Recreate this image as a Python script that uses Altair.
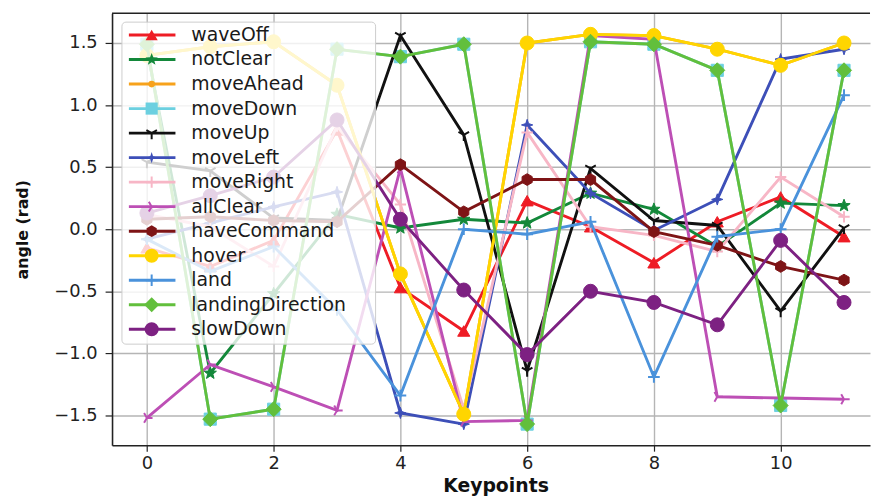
import math
import altair as alt
import pandas as pd

keypoints = list(range(12))

series_names = ["waveOff", "notClear", "moveAhead", "moveDown", "moveUp", "moveLeft",
                "moveRight", "allClear", "haveCommand", "hover", "land",
                "landingDirection", "slowDown"]

waveOff = [-0.15, -0.30, -0.09, 0.80, -0.47, -0.82, 0.23, 0.02, -0.27, 0.06, 0.26, -0.06]
notClear = [1.45, -1.16, -0.52, 0.12, 0.01, 0.08, 0.05, 0.29, 0.16, -0.14, 0.21, 0.19]
moveAhead = [1.40, 1.47, 1.51, 1.16, -0.36, -1.49, 1.50, 1.57, 1.56, 1.45, 1.32, 1.50]
moveDown = [1.49, -1.53, -1.45, 1.45, 1.39, 1.49, -1.57, 1.51, 1.49, 1.28, -1.42, 1.28]
moveUp = [0.54, 0.47, 0.09, 0.07, 1.56, 0.76, -1.14, 0.49, 0.07, 0.03, -0.66, 0.01]
moveLeft = [-0.08, 0.05, 0.18, 0.30, -1.48, -1.57, 0.84, 0.29, -0.01, 0.24, 1.37, 1.45]
moveRight = [0.12, 0.02, -0.30, 0.83, 0.20, -1.45, 0.78, 0.02, -0.05, -0.18, 0.42, 0.10]
allClear = [-1.52, -1.09, -1.27, -1.46, 0.49, -1.55, -1.54, 1.56, 1.53, -1.35, -1.36, -1.37]
haveCommand = [0.08, 0.10, 0.07, 0.06, 0.52, 0.14, 0.40, 0.40, -0.02, -0.13, -0.30, -0.41]
hover = [1.40, 1.47, 1.51, 1.16, -0.36, -1.49, 1.50, 1.57, 1.56, 1.45, 1.32, 1.50]
land = [-0.08, -0.34, -0.14, -0.65, -1.34, 0.00, -0.04, 0.06, -1.19, -0.06, 0.00, 1.08]
landingDirection = [1.49, -1.53, -1.45, 1.45, 1.39, 1.49, -1.57, 1.51, 1.49, 1.28, -1.42, 1.28]
slowDown = [0.13, 0.27, 0.42, 0.88, 0.08, -0.49, -1.01, -0.50, -0.59, -0.77, -0.09, -0.59]

series_values = [waveOff, notClear, moveAhead, moveDown, moveUp, moveLeft, moveRight,
                 allClear, haveCommand, hover, land, landingDirection, slowDown]

series_colors = ["#ee1c25", "#13883a", "#f7a21b", "#6cd0e0", "#111111", "#3d4fb8",
                 "#f7b6c6", "#bd4fb5", "#7e1416", "#ffd500", "#4a92db",
                 "#62bf3c", "#7d2182"]

y_ticks = [-1.5, -1.0, -0.5, 0.0, 0.5, 1.0, 1.5]
x_ticks = [0, 2, 4, 6, 8, 10]


def star_path(n=5, r_in=0.42):
    pts = []
    for k in range(2 * n):
        r = 1.0 if k % 2 == 0 else r_in
        a = -math.pi / 2 + k * math.pi / n
        pts.append(f"{r * math.cos(a):.3f},{r * math.sin(a):.3f}")
    return "M" + "L".join(pts) + "Z"


def hex_path():
    pts = []
    for k in range(6):
        a = -math.pi / 2 + k * math.pi / 3
        pts.append(f"{math.cos(a):.3f},{math.sin(a):.3f}")
    return "M" + "L".join(pts) + "Z"


tri_down = "M0,0L0,1M0,0L-0.87,-0.5M0,0L0.87,-0.5"
tri_right = "M0,0L1,0M0,0L-0.5,-0.87M0,0L-0.5,0.87"
plus = "M-1,0L1,0M0,-1L0,1"

# (shape, size, filled)
markers = [
    ("triangle-up", 150, True),
    (star_path(), 170, True),
    ("circle", 45, True),
    ("square", 150, True),
    (tri_down, 150, False),
    (star_path(4, 0.35), 130, True),
    (plus, 130, False),
    (tri_right, 130, False),
    (hex_path(), 140, True),
    ("circle", 200, True),
    (plus, 140, False),
    ("diamond", 230, True),
    ("circle", 200, True),
]

W, H = 765, 436
FONT = "DejaVu Sans"

x_scale = alt.Scale(domain=[-0.55, 11.41], nice=False, zero=False)
y_scale = alt.Scale(domain=[-1.74, 1.74], nice=False, zero=False)

x_axis = alt.Axis(values=x_ticks, title="Keypoints", labelFontSize=18, labelFont=FONT,
                  labelColor="#222", titleFont=FONT, titleFontSize=19, titleFontWeight="bold",
                  titleColor="#111", titleX=387, titleY=41, titleAlign="center",
                  titleBaseline="middle", tickSize=6, tickColor="#222", tickWidth=1.2,
                  labelPadding=4, domainColor="#222", domainWidth=1.6, grid=True,
                  gridColor="#b5b5b5", gridWidth=1.4, format="d")
y_axis = alt.Axis(values=y_ticks, title="angle (rad)", labelFontSize=18, labelFont=FONT,
                  labelColor="#222", titleFont=FONT, titleFontSize=16, titleFontWeight="bold",
                  titleColor="#111", titleX=-90, titleY=218, titleAngle=-90,
                  titleAlign="center", titleBaseline="middle", tickSize=7,
                  tickColor="#222", tickWidth=1.2, labelPadding=8, domainColor="#222",
                  domainWidth=1.6, grid=True, gridColor="#b5b5b5", gridWidth=1.4, format=".1f")

layers = []
for i, (name, vals) in enumerate(zip(series_names, series_values)):
    df = pd.DataFrame({"Keypoints": keypoints, "angle": vals, "series": name})
    base = alt.Chart(df)
    enc_x = alt.X("Keypoints:Q", scale=x_scale, axis=x_axis)
    enc_y = alt.Y("angle:Q", scale=y_scale, axis=y_axis)
    line = base.mark_line(color=series_colors[i], strokeWidth=2.9, clip=True).encode(x=enc_x, y=enc_y)
    shape, size, filled = markers[i]
    if filled:
        pt = base.mark_point(shape=shape, size=size, filled=True, fill=series_colors[i],
                             stroke=series_colors[i], strokeWidth=1, opacity=1, clip=True)
    else:
        pt = base.mark_point(shape=shape, size=size, filled=False, stroke=series_colors[i],
                             strokeWidth=2, opacity=1, clip=True)
    pt = pt.encode(x=enc_x, y=enc_y)
    layers += [line, pt]

data_layer = alt.layer(*layers)

# top spine
top_rule = alt.Chart(pd.DataFrame({"a": [0]})).mark_rule(color="#222", strokeWidth=1.6).encode(
    x=alt.value(0), x2=alt.value(W), y=alt.value(0))

# legend
leg_bg = alt.Chart(pd.DataFrame({"a": [0]})).mark_rect(
    fill="white", fillOpacity=0.8, stroke="#cccccc", strokeWidth=1, cornerRadius=4).encode(
    x=alt.value(10), x2=alt.value(266), y=alt.value(9), y2=alt.value(334))

leg_rows = []
for i, name in enumerate(series_names):
    shape, size, filled = markers[i]
    leg_rows.append({"name": name, "py": 22 + i * 24.75, "color": series_colors[i],
                     "shape": shape, "size": size, "filled": filled})
leg_df = pd.DataFrame(leg_rows)

leg_y = alt.Y("py:Q", scale=None, axis=None)
leg_lines = alt.Chart(leg_df).mark_rule(strokeWidth=2.9).encode(
    x=alt.value(17), x2=alt.value(64), y=leg_y,
    color=alt.Color("color:N", scale=None))
leg_pts_f = alt.Chart(leg_df[leg_df["filled"]]).mark_point(filled=True, opacity=1).encode(
    x=alt.value(40), y=leg_y,
    color=alt.Color("color:N", scale=None),
    shape=alt.Shape("shape:N", scale=None),
    size=alt.Size("size:Q", scale=None))
leg_pts_s = alt.Chart(leg_df[~leg_df["filled"]]).mark_point(filled=False, opacity=1, strokeWidth=2).encode(
    x=alt.value(40), y=leg_y,
    color=alt.Color("color:N", scale=None),
    shape=alt.Shape("shape:N", scale=None),
    size=alt.Size("size:Q", scale=None))
leg_text = alt.Chart(leg_df).mark_text(align="left", baseline="middle", font=FONT,
                                       fontSize=19, color="#1a1a1a").encode(
    x=alt.value(80), y=leg_y, text="name:N")

legend_layer = alt.layer(top_rule, leg_bg, leg_lines, leg_pts_f, leg_pts_s, leg_text)

chart = alt.layer(data_layer, legend_layer).resolve_scale(
    y="independent", x="independent"
).properties(
    width=W, height=H,
    autosize=alt.AutoSizeParams(type="none"),
    padding={"left": 105, "top": 3, "right": 1, "bottom": 50},
).configure_view(stroke=None)

chart.save("out.html", embed_options={"renderer": "svg", "actions": False})
